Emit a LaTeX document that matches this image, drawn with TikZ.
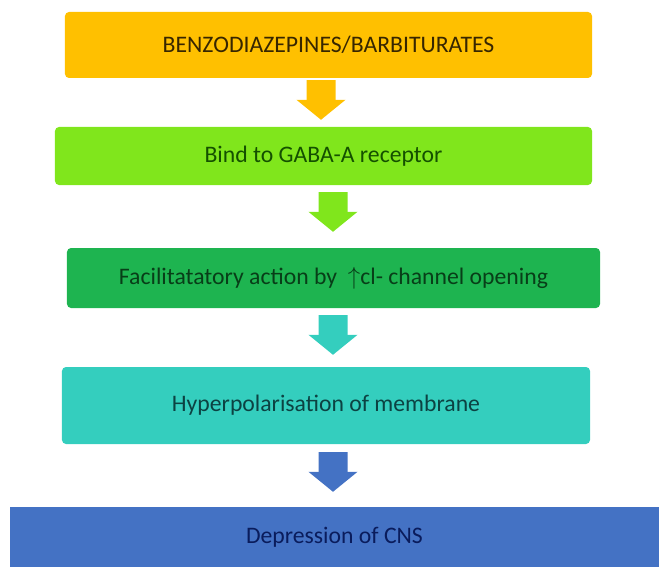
\documentclass[tikz,border=0pt]{standalone}
\usepackage{fontspec}
\setmainfont{Carlito}
\usetikzlibrary{arrows.meta}
\definecolor{flowgold}{RGB}{255,192,0}
\definecolor{flowlime}{RGB}{128,230,28}
\definecolor{flowgreen}{RGB}{30,180,80}
\definecolor{flowteal}{RGB}{52,206,190}
\definecolor{flowblue}{RGB}{68,114,196}
\definecolor{flowgoldtext}{RGB}{55,38,0}
\definecolor{flowlimetext}{RGB}{20,80,0}
\definecolor{flowgreentext}{RGB}{8,62,24}
\definecolor{flowtealtext}{RGB}{12,66,66}
\definecolor{flowbluetext}{RGB}{10,28,92}

\begin{document}
\begin{tikzpicture}[x=1bp,y=-1bp,
  stepbox/.style={rectangle,rounded corners=4bp,inner sep=0pt,
    font=\fontsize{23.8}{28}\selectfont},
  bigarrow/.style={line width=29bp,
    -{Triangle[width=48bp,length=20bp]}}]
  \useasboundingbox (0,0) rectangle (659,567);
  \node[stepbox,fill=flowgold,text=flowgoldtext,
    minimum width=527bp,minimum height=66bp] (benzo) at (328.5,45)
    {BENZODIAZEPINES/BARBITURATES};
  \node[stepbox,fill=flowlime,text=flowlimetext,
    minimum width=537bp,minimum height=58bp] (bind) at (323.5,156)
    {Bind to GABA-A receptor};
  \node[stepbox,fill=flowgreen,text=flowgreentext,
    minimum width=533bp,minimum height=60bp] (facil) at (333.5,278)
    {Facilitatatory action by \ $\uparrow$cl- channel opening};
  \node[stepbox,fill=flowteal,text=flowtealtext,
    minimum width=528bp,minimum height=77bp] (hyper) at (326,405.5)
    {Hyperpolarisation of membrane};
  \node[stepbox,rounded corners=0pt,fill=flowblue,text=flowbluetext,
    minimum width=649bp,minimum height=60bp] (depress) at (334.5,537)
    {Depression of CNS};
  % block arrows between the steps
  \draw[bigarrow,flowgold,shorten <=2bp,shorten >=7bp]
    ([xshift=-7.5bp]benzo.south) -- ([xshift=-2.5bp]bind.north);
  \draw[bigarrow,flowlime,shorten <=7bp,shorten >=16bp]
    ([xshift=9.5bp]bind.south) -- ([xshift=-.5bp]facil.north);
  \draw[bigarrow,flowteal,shorten <=7bp,shorten >=12bp]
    ([xshift=-.5bp]facil.south) -- ([xshift=7bp]hyper.north);
  \draw[bigarrow,flowblue,shorten <=8bp,shorten >=15bp]
    ([xshift=7bp]hyper.south) -- ([xshift=-1.5bp]depress.north);
\end{tikzpicture}
\end{document}
